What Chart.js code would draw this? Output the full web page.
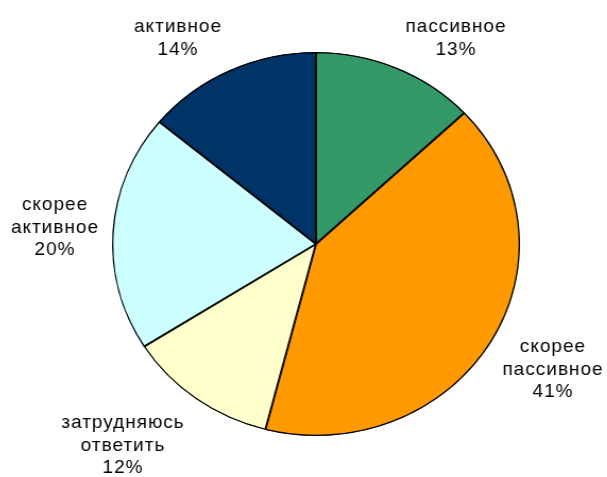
<!DOCTYPE html>
<html>
<head>
<meta charset="utf-8">
<script src="https://cdn.jsdelivr.net/npm/chart.js@4"></script>
<style>
  html, body { margin: 0; padding: 0; background: #fff; }
  #wrap { position: relative; width: 607px; height: 477px; overflow: hidden; }
  /* the source pie is slightly wider than tall */
  #pie { transform: scaleX(1.0625); transform-origin: 316px 244px; }
</style>
</head>
<body>
<div id="wrap"><canvas id="pie" width="607" height="477"></canvas></div>
<script>
const categories = ["пассивное", "скорее пассивное", "затрудняюсь ответить", "скорее активное", "активное"];
const shares     = [13, 41, 12, 20, 14];
const colors     = ["#339966", "#FF9900", "#FFFFCC", "#CCFFFF", "#003366"];

// label lines and where they sit on the page
const labelLines = [
  ["пассивное"],
  ["скорее", "пассивное"],
  ["затрудняюсь", "ответить"],
  ["скорее", "активное"],
  ["активное"]
];
const labelAt = [[456, 27], [553, 347], [123, 423], [55, 205], [178, 27]];

const SX = 1.0625, OX = 316;
const LINE_H = 22.5;

// ── Outside labels ──
const outsideLabels = {
  id: "outsideLabels",
  afterDraw(chart) {
    const ctx = chart.ctx;
    ctx.save();
    ctx.fillStyle = "#000";
    ctx.font = "19px 'Liberation Sans', Arial, sans-serif";
    ctx.letterSpacing = "1px";
    ctx.textAlign = "center";
    ctx.textBaseline = "middle";
    categories.forEach((c, i) => {
      const lines = labelLines[i].concat([shares[i] + "%"]);
      const x = OX + (labelAt[i][0] - OX) / SX;
      lines.forEach((t, k) => {
        ctx.save();
        ctx.translate(x, labelAt[i][1] + k * LINE_H);
        ctx.scale(1 / SX, 1);
        ctx.fillText(t, 0, 0);
        ctx.restore();
      });
    });
    ctx.restore();
  }
};

new Chart(document.getElementById("pie"), {
  type: "pie",
  data: {
    labels: categories,
    datasets: [{
      data: shares,
      backgroundColor: colors,
      borderColor: "#000",
      borderWidth: 1,
      borderAlign: "inner"
    }]
  },
  options: {
    responsive: false,
    animation: false,
    events: [],
    layout: { padding: { left: 124, right: 99, top: 52, bottom: 41 } },
    plugins: {
      legend: { display: false },
      tooltip: { enabled: false }
    }
  },
  plugins: [outsideLabels]
});
</script>
</body>
</html>
